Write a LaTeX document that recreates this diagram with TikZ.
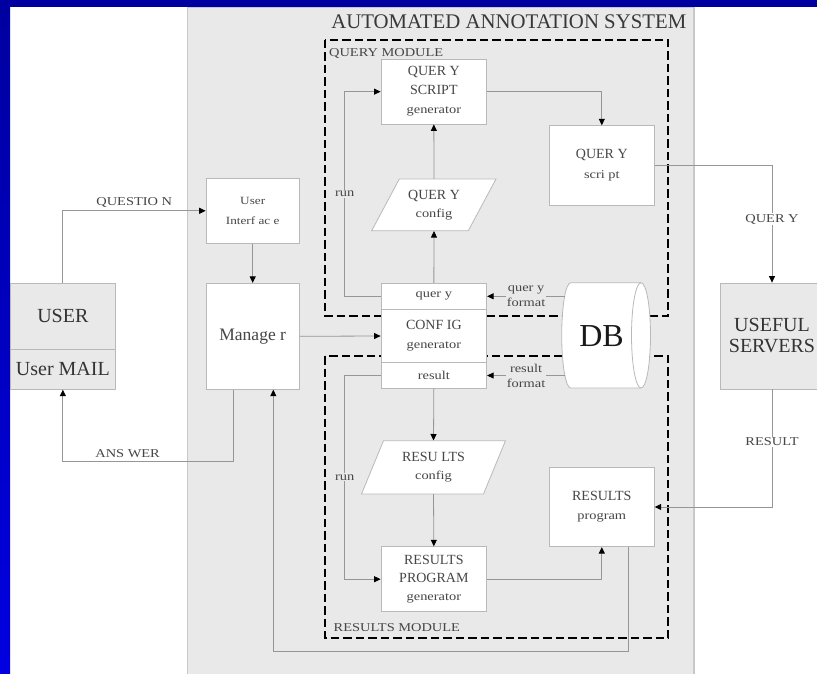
\documentclass[tikz,border=0pt]{standalone}
\usepackage{fontspec}
\setmainfont{Liberation Serif}
\newfontfamily\widefam[FakeStretch=1.2]{Liberation Serif}
\usetikzlibrary{arrows.meta,calc}

\definecolor{frameblue}{RGB}{0,0,160}
\definecolor{framebright}{RGB}{0,0,225}
\definecolor{sysfill}{RGB}{233,233,233}
\definecolor{sysline}{RGB}{200,200,200}
\definecolor{boxline}{RGB}{185,185,185}
\definecolor{wire}{RGB}{150,150,150}
\definecolor{ink}{RGB}{70,70,70}

\newcommand\smalltxt{\widefam\fontsize{12}{15}\selectfont}
\newcommand\boxtxt{\fontsize{14}{19}\selectfont}
\newcommand\bigtxt{\fontsize{20}{21}\selectfont}

\tikzset{
  blk/.style={draw=boxline, fill=white, line width=0.8pt, inner sep=0pt,
    align=center, text=ink, font=\boxtxt},
  graybox/.style={blk, fill=sysfill, font=\bigtxt, text=black!80},
  lbl/.style={font=\smalltxt, text=ink, inner sep=1pt, align=center},
  wirearrow/.style={draw=wire, line width=0.8pt,
    -{Triangle[length=6.5pt,width=6pt,color=black]}},
  module/.style={draw=black, line width=2.4pt, dash pattern=on 8.5pt off 4pt},
  drumline/.style={fill=white, draw=boxline, line width=0.8pt},
}

\begin{document}
\begin{tikzpicture}[x=1pt,y=-1pt]
\useasboundingbox (0,0) rectangle (817,674);
\clip (0,0) rectangle (817,674);

% frame and system area
\fill[white] (0,0) rectangle (817,674);
\shade[top color=frameblue, bottom color=framebright] (0,0) rectangle (10,674);
\fill[frameblue] (0,0) rectangle (817,7);
\filldraw[fill=sysfill, draw=sysline, line width=1.2pt] (187.5,7.5) rectangle (694,690);
\node[anchor=base east, font=\fontsize{20.8}{22}\selectfont, text=black!78, inner sep=0pt]
  (title) at (686.5,28.5) {AUTOMATED ANNOTATION SYSTEM};

% the two modules
\draw[module] (325,40) rectangle (668,316);
\draw[module] (325,356) rectangle (668,638);
\node[lbl, anchor=base west] (qmod) at (328,56.7) {QUERY MODULE};
\node[lbl, anchor=base west] (rmod) at (332.5,631.7) {RESULTS MODULE};

% data (parallelogram) outlines
\filldraw[drumline] (399.3,179) -- (496,179) -- (468.3,230.7) -- (371.7,230.7) -- cycle;
\filldraw[drumline] (383.5,440.7) -- (505.5,440.7) -- (483.5,494) -- (361.5,494) -- cycle;

% outside actors
\node[graybox, minimum width=105.7, minimum height=66] (user) at (62.85,316.3) {USER};
\node[graybox, minimum width=105.7, minimum height=40] (umail) at (62.85,369.3) {User MAIL};
\node[graybox, minimum width=104, minimum height=106, font=\fontsize{20}{21}\selectfont]
  (srv) at (772,336) {USEFUL\\SERVERS};

% system blocks
\node[blk, minimum width=93.3, minimum height=65, font=\widefam\fontsize{11}{20}\selectfont]
  (ui) at (252.7,210.8) {User\\Interf ac e};
\node[blk, minimum width=93.3, minimum height=106, font=\fontsize{17.5}{20}\selectfont]
  (mgr) at (252.7,336.3) {Manage r};

\node[blk, minimum width=105.7, minimum height=64.7] (qsg) at (433.85,91.65)
  {QUER Y\\SCRIPT\\{\smalltxt generator}};
\node[blk, minimum width=105, minimum height=79.3, font=\fontsize{14}{20}\selectfont]
  (qs) at (601.8,165.35) {QUER Y\\{\smalltxt scri pt}};
\node[lbl, font=\fontsize{14}{18}\selectfont, minimum height=51.7, inner sep=0pt]
  (qcfg) at (434,205) {QUER Y\\{\smalltxt config}};

\node[blk, minimum width=105.7, minimum height=26, font=\smalltxt] (cfgq) at (433.85,296.3) {quer y};
\node[blk, minimum width=105.7, minimum height=53.4] (cfg) at (433.85,336)
  {CONF IG\\{\smalltxt generator}};
\node[blk, minimum width=105.7, minimum height=25.6, font=\smalltxt] (cfgr) at (433.85,375.5) {result};

\node[lbl, font=\fontsize{14}{18}\selectfont, minimum height=53.3, inner sep=0pt]
  (rcfg) at (433.5,467.35) {RESU LTS\\{\smalltxt config}};
\node[blk, minimum width=105, minimum height=79.4] (rp) at (601.8,507)
  {RESULTS\\{\smalltxt program}};
\node[blk, minimum width=105.7, minimum height=65, font=\fontsize{14}{18}\selectfont]
  (rpg) at (433.85,579.2) {RESULTS\\PROGRAM\\{\smalltxt generator}};

% database drum
\filldraw[drumline] (641,282.7) -- (570.7,282.7)
  arc[start angle=90, end angle=270, x radius=9pt, y radius=52.65pt] -- (641,388)
  arc[start angle=-90, end angle=90, x radius=9.5pt, y radius=52.65pt] -- cycle;
\draw[draw=boxline, line width=0.8pt] (641,388)
  arc[start angle=270, end angle=90, x radius=9.5pt, y radius=52.65pt];
\node[font=\fontsize{32}{34}\selectfont, text=black!90, inner sep=0pt] (db) at (601.5,336.5) {DB};
\coordinate (dbq) at (565,296.3);
\coordinate (dbr) at (565,375.5);

% connectors
\draw[wirearrow] (user.north) |- node[lbl, pos=0.75, above=2pt] {QUESTIO N} (ui.west);
\draw[wirearrow] (ui.south) -- (mgr.north);
\draw[wirearrow] ([xshift=-19.4pt]mgr.south) -- ++(0,71.7)
  -| node[lbl, pos=0.31, above=2pt] {ANS WER} (umail.south);
\draw[wirearrow] (mgr.east) -- (cfg.west);

\draw[wirearrow] (cfgq.north) -- (qcfg.south);
\draw[wirearrow] (qcfg.north) -- (qsg.south);
\draw[wirearrow] (cfgq.west) -- ++(-36,0) |- node[lbl, pos=0.25, fill=sysfill] {run} (qsg.west);
\draw[wirearrow] (qsg.east) -| (qs.north);
\draw[wirearrow] (qs.east) -| node[lbl, pos=0.73, fill=white] {QUER Y} (srv.north);
\draw[wirearrow] (srv.south) |- node[lbl, pos=0.223, fill=white] {RESULT} (rp.east);

\draw[wirearrow] (dbq) -- node[lbl, fill=sysfill] {quer y\\format} (cfgq.east);
\draw[wirearrow] (dbr) -- node[lbl, fill=sysfill] {result\\format} (cfgr.east);

\draw[wirearrow] (cfgr.south) -- (rcfg.north);
\draw[wirearrow] (rcfg.south) -- (rpg.north);
\draw[wirearrow] (cfgr.west) -- ++(-36,0) |- node[lbl, pos=0.25, fill=sysfill] {run} (rpg.west);
\draw[wirearrow] (rpg.east) -| (rp.south);
\draw[wirearrow] ([xshift=26.5pt]rp.south) -- ++(0,104) -| ([xshift=20.6pt]mgr.south);
\end{tikzpicture}
\end{document}
